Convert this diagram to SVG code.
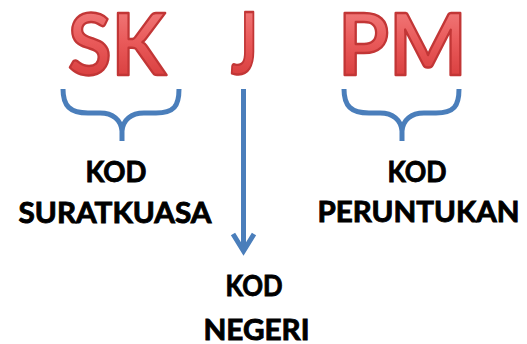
<svg xmlns="http://www.w3.org/2000/svg" width="527" height="344" viewBox="0 0 527 344">
  <defs>
    <linearGradient id="red" x1="0" y1="0" x2="0" y2="1">
      <stop offset="0" stop-color="#f58a8a"/>
      <stop offset="0.5" stop-color="#e95a5a"/>
      <stop offset="1" stop-color="#d23434"/>
    </linearGradient>
  </defs>
  <style>
    .big { font-family: Lato, "Open Sans", "Liberation Sans", sans-serif; font-weight: bold; font-size: 86px; fill: url(#red); stroke: #c23636; stroke-width: 2.4; stroke-linejoin: round; }
    .lbl { font-family: Lato, "Open Sans", "Liberation Sans", sans-serif; font-weight: bold; font-size: 29px; fill: #000; stroke: #000; stroke-width: 0.9; }
    .con { fill: none; stroke: #4a7ebb; stroke-width: 5; }
  </style>
  <rect width="527" height="344" fill="#fff"/>
  <g id="code-SK"><text class="big" x="68" y="75" textLength="98" lengthAdjust="spacingAndGlyphs">SK</text></g>
  <g id="code-J"><text class="big" x="231" y="74" textLength="27" lengthAdjust="spacingAndGlyphs">J</text></g>
  <g id="code-PM"><text class="big" x="338" y="75" textLength="129" lengthAdjust="spacingAndGlyphs">PM</text></g>
  <g id="connectors">
    <path class="con" d="M63,89 C63,106 70,113 88,113 L100,113 C113,113 121,120 122,131 C123,120 131,113 144,113 L156,113 C174,113 179,106 179,89 M122,128 L122,141"/>
    <path class="con" d="M344,89 C344,106 351,113 369,113 L380,113 C393,113 401,120 402,131 C403,120 411,113 424,113 L436,113 C454,113 459,106 459,89 M402,128 L402,141"/>
    <path class="con" d="M243.5,89 L243.5,249"/>
    <path class="con" d="M233,234 L243.5,251 L254,234" stroke-linejoin="miter"/>
  </g>
  <g id="label-suratkuasa">
    <text class="lbl" x="116" y="182" text-anchor="middle" textLength="61" lengthAdjust="spacingAndGlyphs">KOD</text>
    <text class="lbl" x="115" y="223" text-anchor="middle" textLength="193" lengthAdjust="spacingAndGlyphs">SURATKUASA</text>
  </g>
  <g id="label-peruntukan">
    <text class="lbl" x="417" y="182" text-anchor="middle" textLength="59" lengthAdjust="spacingAndGlyphs">KOD</text>
    <text class="lbl" x="418.5" y="222" text-anchor="middle" textLength="202" lengthAdjust="spacingAndGlyphs">PERUNTUKAN</text>
  </g>
  <g id="label-negeri">
    <text class="lbl" x="254" y="296" text-anchor="middle" textLength="57" lengthAdjust="spacingAndGlyphs">KOD</text>
    <text class="lbl" x="256.5" y="340" text-anchor="middle" textLength="106" lengthAdjust="spacingAndGlyphs">NEGERI</text>
  </g>
</svg>
